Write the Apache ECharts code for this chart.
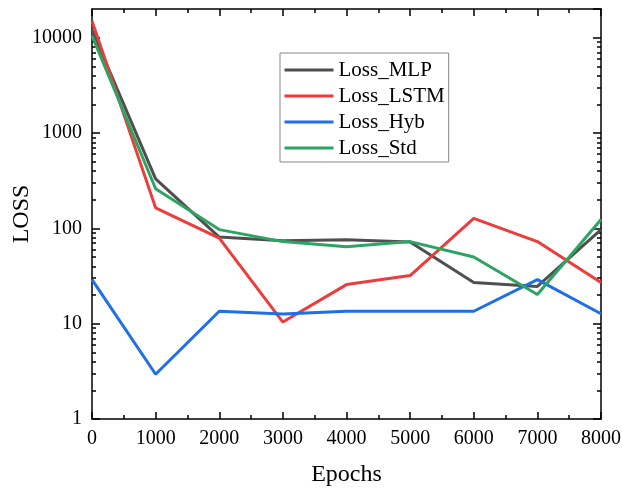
<!DOCTYPE html>
<html>
<head>
<meta charset="utf-8">
<script src="https://cdn.jsdelivr.net/npm/echarts@6/dist/echarts.min.js"></script>
<style>html,body{margin:0;padding:0;background:#fff}#c{width:622px;height:489px}</style>
</head>
<body>
<div id="c"></div>
<script>
const epochs = [0, 1000, 2000, 3000, 4000, 5000, 6000, 7000, 8000];
const lossMLP  = [12000, 331, 81, 74, 76, 72, 27, 24.6, 97];
const lossLSTM = [15000, 164, 79, 10.4, 25.7, 32, 127, 72.6, 27];
const lossHyb  = [29, 2.95, 13.5, 12.6, 13.5, 13.5, 13.5, 29, 12.7];
const lossStd  = [10500, 260, 97, 72.6, 64, 72.6, 50, 20.2, 124];
const seriesNames = ['Loss_MLP', 'Loss_LSTM', 'Loss_Hyb', 'Loss_Std'];
const seriesColors = ['#4f4f4f', '#ee3b3b', '#1f6fe5', '#2ca464'];
const yMajorTicks = [1, 10, 100, 1000, 10000];
const yMin = 1, yMax = 20000;

const FONT = '"Liberation Serif", "Times New Roman", serif';

// minor log tick positions (2..9 times each decade), expressed in log10 space
const minorLog = [];
for (let d = 0; d <= 4; d++) {
  for (let m = 2; m <= 9; m++) {
    const v = m * Math.pow(10, d);
    if (v < yMax) minorLog.push(Math.log10(v));
  }
}
const logMax = Math.log10(yMax);

const allData = [lossMLP, lossLSTM, lossHyb, lossStd];
const series = seriesNames.map((n, i) => ({
  name: n,
  type: 'line',
  data: epochs.map((e, j) => [e, allData[i][j]]),
  xAxisIndex: 0,
  yAxisIndex: 0,
  symbol: 'none',
  lineStyle: { width: 3, color: seriesColors[i] },
  itemStyle: { color: seriesColors[i] },
  z: 3
}));

const axisLineStyle = { show: true, onZero: false, lineStyle: { color: '#000', width: 1.5 } };

const option = {
  animation: false,
  backgroundColor: '#fff',
  grid: { left: 92, right: 21, top: 9, bottom: 70, containLabel: false, outerBoundsMode: 'none' },
  legend: {
    orient: 'vertical',
    left: 280,
    top: 53,
    padding: [6, 4, 3, 3],
    itemGap: 4,
    itemWidth: 49,
    itemHeight: 14,
    borderColor: '#888',
    borderWidth: 1,
    backgroundColor: '#fff',
    textStyle: { fontFamily: FONT, fontSize: 21, color: '#000', lineHeight: 22 },
    itemStyle: { opacity: 0, borderWidth: 0 },
    data: seriesNames.map((n, i) => ({
      name: n,
      itemStyle: { color: 'rgba(0,0,0,0)', opacity: 0, borderWidth: 0 },
      lineStyle: { width: 3, color: seriesColors[i], opacity: 1 }
    }))
  },
  xAxis: [
    {
      type: 'value', min: 0, max: 8000, interval: 1000, position: 'bottom',
      name: 'Epochs', nameLocation: 'middle', nameGap: 44, nameMoveOverlap: false,
      nameTextStyle: { fontFamily: FONT, fontSize: 24, color: '#000' },
      axisLine: axisLineStyle,
      axisTick: { show: true, inside: true, length: 7, lineStyle: { color: '#000', width: 1.5 } },
      minorTick: { show: true, splitNumber: 2, length: 4, lineStyle: { color: '#000', width: 1.5 } },
      axisLabel: { fontFamily: FONT, fontSize: 20, color: '#000', margin: 10, formatter: v => String(v) },
      splitLine: { show: false }
    },
    {
      type: 'value', min: 0, max: 8000, interval: 1000, position: 'top',
      axisLine: axisLineStyle,
      axisTick: { show: true, inside: true, length: 7, lineStyle: { color: '#000', width: 1.5 } },
      minorTick: { show: true, splitNumber: 2, length: 4, lineStyle: { color: '#000', width: 1.5 } },
      axisLabel: { show: false },
      splitLine: { show: false }
    }
  ],
  yAxis: [
    {
      type: 'log', logBase: 10, min: yMin, max: yMax, interval: 1, position: 'left',
      name: 'LOSS', nameLocation: 'middle', nameGap: 58, nameMoveOverlap: false,
      nameTextStyle: { fontFamily: FONT, fontSize: 24, color: '#000' },
      axisLine: axisLineStyle,
      axisTick: { show: true, inside: true, length: 8, lineStyle: { color: '#000', width: 1.5 } },
      axisLabel: {
        fontFamily: FONT, fontSize: 20, color: '#000', margin: 10, showMaxLabel: false,
        formatter: v => { const r = Math.round(v); return yMajorTicks.indexOf(r) >= 0 ? String(r) : ''; }
      },
      splitLine: { show: false }
    },
    {
      type: 'log', logBase: 10, min: yMin, max: yMax, interval: 1, position: 'right',
      axisLine: axisLineStyle,
      axisTick: { show: true, inside: true, length: 8, lineStyle: { color: '#000', width: 1.5 } },
      axisLabel: { show: false },
      splitLine: { show: false }
    },
    {
      type: 'value', min: 0, max: logMax, position: 'left',
      axisLine: { show: false, onZero: false },
      axisTick: { show: true, inside: true, length: 4, customValues: minorLog, lineStyle: { color: '#000', width: 1.5 } },
      axisLabel: { show: false },
      splitLine: { show: false }
    },
    {
      type: 'value', min: 0, max: logMax, position: 'right',
      axisLine: { show: false, onZero: false },
      axisTick: { show: true, inside: true, length: 4, customValues: minorLog, lineStyle: { color: '#000', width: 1.5 } },
      axisLabel: { show: false },
      splitLine: { show: false }
    }
  ],
  series: series
};

const chart = echarts.init(document.getElementById('c'), null, { renderer: 'canvas' });
chart.setOption(option);
</script>
</body>
</html>
